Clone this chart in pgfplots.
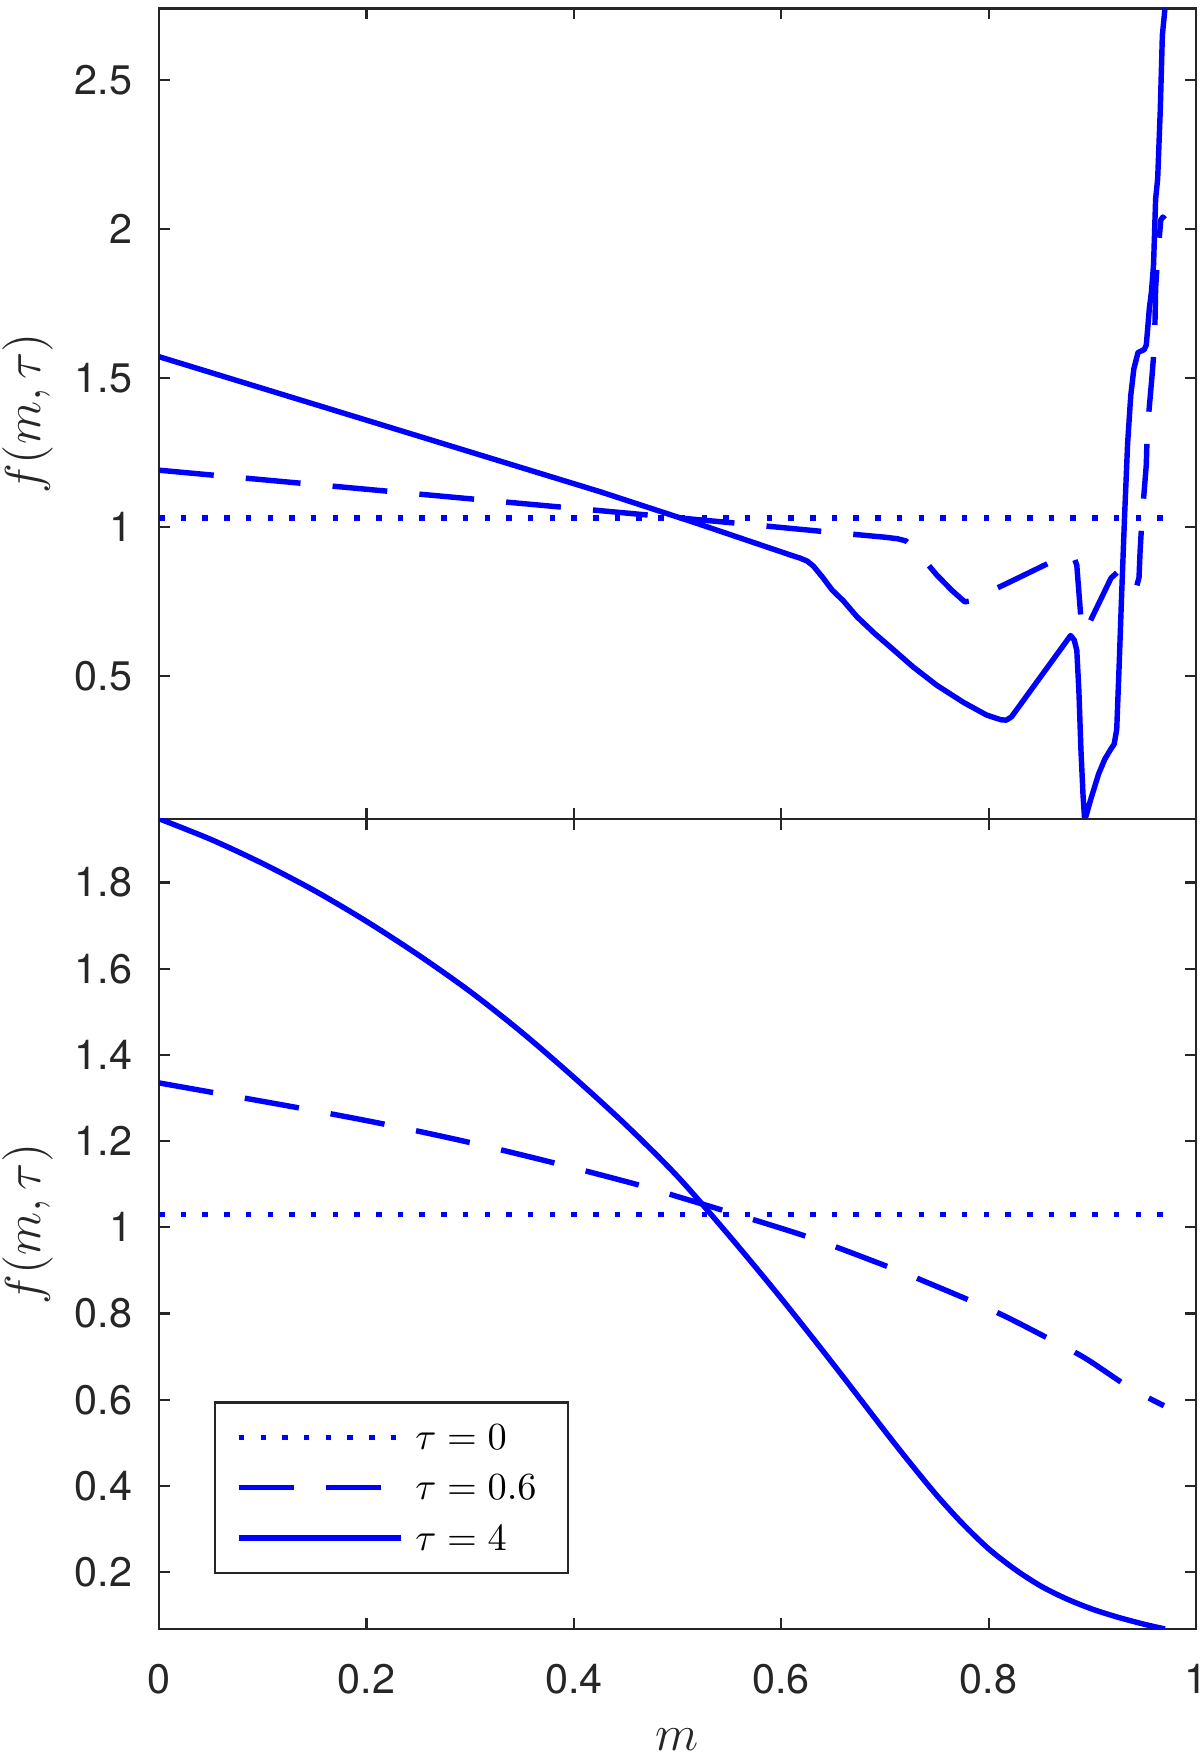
\documentclass[border=0pt]{standalone}
\usepackage{fontspec}
\setmainfont{TeX Gyre Heros}
\usepackage{pgfplots}
\pgfplotsset{compat=1.18}
\definecolor{axgray}{HTML}{262626}
\definecolor{mblue}{RGB}{0,0,255}

\pgfplotsset{
 mystyle/.style={
  scale only axis, width=296.3pt, height=231.5pt,
  xmin=0, xmax=1,
  tick align=inside, major tick length=3.14pt,
  axis line style={draw=axgray, line width=0.65pt},
  every tick/.style={draw=axgray, line width=0.65pt},
  xtick={0,0.2,0.4,0.6,0.8,1},
  ticklabel style={font=\fontsize{11.8}{14}\selectfont, text=axgray, inner sep=0pt},
  yticklabel style={anchor=east, xshift=-7.43pt},
  xticklabel style={anchor=north, yshift=-9.8pt},
  /pgf/number format/assume math mode=true,
  every axis y label/.style={at={(axis description cs:-0.1268,0.5)}, rotate=90, anchor=center, inner sep=0pt, font=\fontsize{14.3}{17}\selectfont, text=axgray},
  every axis x label/.style={at={(axis description cs:0.5,-0.1363)}, anchor=center, inner sep=0pt, font=\fontsize{14.3}{17}\selectfont, text=axgray},
  clip=true,
 },
 tau0/.style={mblue, line width=1.55pt, line join=round, dash pattern=on 1.57pt off 4.63pt},
 tau06/.style={mblue, line width=1.55pt, line join=round, dash pattern=on 15.7pt off 9.2pt},
 tau4/.style={mblue, line width=1.55pt, line join=round},
}

\begin{document}
\begin{tikzpicture}
\path[use as bounding box] (0,0) rectangle (342.857pt,501.714pt);

% ---------------- top panel ----------------
\begin{axis}[mystyle,
  at={(45.43pt,267.79pt)}, anchor=south west,
  ymin=0.02, ymax=2.74,
  ytick={0.5,1,1.5,2,2.5}, yticklabels={0.5,1,1.5,2,2.5},
  xticklabels={},
  ylabel={$f(m,\tau)$},
]
\addplot[tau0] coordinates {(0,1.03) (0.97,1.03)};
\addplot[tau06] coordinates {
(0,1.190) (0.1,1.158) (0.2,1.126) (0.3,1.094) (0.426,1.054) (0.56,1.011)
(0.647,0.982) (0.700,0.965) (0.712,0.960) (0.720,0.953) (0.726,0.935)
(0.735,0.900) (0.750,0.838) (0.765,0.785) (0.777,0.748) (0.784,0.752)
(0.791,0.766) (0.820,0.814) (0.865,0.890) (0.876,0.906) (0.882,0.900)
(0.885,0.871) (0.889,0.691) (0.892,0.645) (0.896,0.669) (0.918,0.828)
(0.925,0.850) (0.932,0.826) (0.938,0.792) (0.942,0.790) (0.945,0.830)
(0.946,0.916) (0.948,1.034) (0.952,1.208) (0.953,1.326) (0.9575,1.505)
(0.960,1.617) (0.961,1.800) (0.963,1.910) (0.966,2.030) (0.968,2.040)
(0.970,2.033)};
\addplot[tau4] coordinates {
(0,1.571) (0.2,1.358) (0.426,1.117) (0.520,1.010) (0.610,0.904) (0.618,0.895) (0.625,0.885) (0.631,0.868) (0.640,0.830)
(0.649,0.788) (0.660,0.751) (0.673,0.698) (0.690,0.642) (0.705,0.597)
(0.727,0.530) (0.750,0.468) (0.776,0.410) (0.798,0.368) (0.812,0.352)
(0.817,0.351) (0.822,0.362) (0.879,0.635) (0.8825,0.620) (0.885,0.585)
(0.887,0.45) (0.889,0.25) (0.891,0.10) (0.8925,0.02) (0.894,0.03)
(0.898,0.08) (0.906,0.17) (0.912,0.22) (0.918,0.255) (0.921,0.27)
(0.9235,0.32) (0.926,0.55) (0.928,0.75) (0.931,1.03) (0.934,1.28)
(0.937,1.44) (0.940,1.53) (0.944,1.585) (0.950,1.595) (0.952,1.61)
(0.955,1.735) (0.957,1.79) (0.959,1.88) (0.961,2.10) (0.963,2.17)
(0.9655,2.40) (0.9675,2.65) (0.970,2.74)};
\end{axis}

% ---------------- bottom panel ----------------
\begin{axis}[mystyle,
  at={(45.43pt,36.29pt)}, anchor=south west,
  ymin=0.068, ymax=1.948,
  ytick={0.2,0.4,0.6,0.8,1,1.2,1.4,1.6,1.8},
  yticklabels={0.2,0.4,0.6,0.8,1,1.2,1.4,1.6,1.8},
  xticklabels={0,0.2,0.4,0.6,0.8,1},
  xlabel={$m$},
  ylabel={$f(m,\tau)$},
  legend style={
    at={(axis description cs:0.0530,0.0679)}, anchor=south west,
    draw=axgray, line width=0.65pt, fill=white,
    inner xsep=6.0pt, inner ysep=6.2pt,
    row sep=6.9pt, column sep=3.3pt,
    font=\fontsize{11}{13}\selectfont,
    nodes={inner sep=0pt, text height=7.2pt, text depth=0.3pt, anchor=base west, text width=37.5pt},
  },
  legend image code/.code={\draw[#1] (0pt,3.4pt) -- (46.4pt,3.4pt);},
]
\addplot[tau0] coordinates {(0,1.03) (0.97,1.03)};
\addlegendentry{$\tau = 0$}
\addplot[tau06, smooth] coordinates {
(0,1.335) (0.135,1.277) (0.220,1.238) (0.301,1.196) (0.385,1.147)
(0.466,1.096) (0.499,1.072) (0.547,1.037) (0.629,0.975) (0.709,0.903)
(0.7397,0.873) (0.787,0.825) (0.818,0.791) (0.864,0.734) (0.894,0.695)
(0.936,0.628) (0.969,0.586)};
\addlegendentry{$\tau = 0.6$}
\addplot[tau4, smooth] coordinates {
(0,1.948) (0.05,1.900) (0.1,1.844) (0.15,1.781) (0.2,1.710) (0.25,1.632)
(0.3,1.547) (0.35,1.452) (0.4,1.348) (0.45,1.238) (0.5,1.118) (0.55,0.980)
(0.6,0.835) (0.65,0.683) (0.7,0.527) (0.725,0.451) (0.75,0.378) (0.775,0.312)
(0.8,0.254) (0.825,0.207) (0.85,0.168) (0.875,0.138) (0.9,0.114)
(0.925,0.095) (0.95,0.079) (0.97,0.068)};
\addlegendentry{$\tau = 4$}
\end{axis}
\end{tikzpicture}
\end{document}
